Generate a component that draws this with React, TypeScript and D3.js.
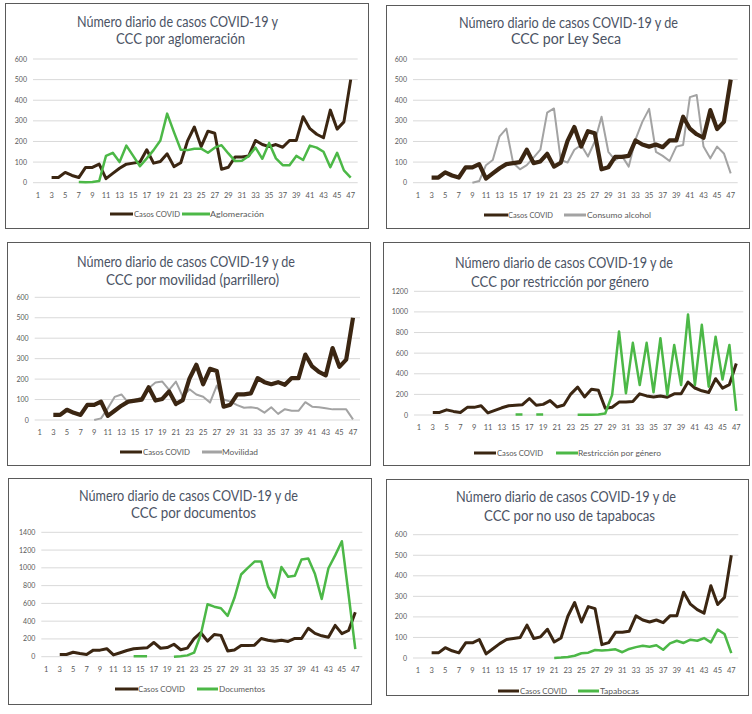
import React from "react";
import * as d3 from "d3";

const days: number[] = d3.range(1, 48);
const tickDays: number[] = days.filter((d) => d % 2 === 1);

const covid: (number | null)[] = [null, null, 25, 25, 50, 35, 25, 74, 74, 90, 20, 45, 70, 90, 95, 100, 160, 95, 103, 140, 78, 97, 203, 270, 175, 250, 240, 65, 75, 125, 125, 130, 205, 185, 175, 185, 172, 205, 205, 320, 262, 235, 218, 352, 260, 295, 500];

const aglomeracion: (number | null)[] = [null, null, null, null, null, null, 3, 2, 3, 8, 130, 145, 100, 180, 130, 80, 118, 158, 205, 335, 245, 160, 158, 165, 165, 145, 170, 182, 142, 105, 106, 130, 170, 116, 193, 118, 85, 85, 130, 110, 180, 170, 150, 75, 145, 60, 25];

const alcohol: (number | null)[] = [null, null, null, null, null, null, null, null, 0, 8, 85, 110, 225, 262, 95, 65, 85, 122, 160, 340, 360, 110, 98, 160, 183, 127, 200, 320, 150, 110, 130, 78, 210, 295, 358, 150, 130, 105, 175, 183, 415, 425, 175, 118, 175, 142, 45];

const movilidad: (number | null)[] = [null, null, null, null, null, null, null, null, 0, 8, 57, 113, 125, 85, 98, 110, 155, 183, 188, 147, 188, 115, 150, 125, 114, 85, 168, 100, 90, 73, 60, 62, 57, 36, 62, 30, 53, 45, 45, 87, 65, 62, 57, 52, 52, 52, 3];

const genero: (number | null)[] = [null, null, null, null, null, null, null, null, null, null, null, null, null, null, 5, 5, null, 5, 5, null, null, null, null, 2, 2, 3, 5, 15, 195, 810, 210, 700, 290, 700, 220, 745, 195, 680, 290, 975, 290, 875, 275, 760, 345, 680, 40];

const documentos: (number | null)[] = [null, null, null, null, null, null, null, null, null, null, null, null, null, 5, 5, 5, null, null, null, 0, 5, 15, 45, 250, 590, 563, 545, 460, 660, 925, 1000, 1070, 1070, 790, 665, 1010, 900, 910, 1095, 1105, 930, 650, 995, 1140, 1300, 700, 85];

const tapabocas: (number | null)[] = [null, null, null, null, null, null, null, null, null, null, null, null, null, null, null, null, null, null, null, null, 0, 2, 5, 11, 23, 26, 39, 37, 39, 42, 28, 44, 53, 60, 55, 62, 40, 71, 84, 73, 89, 84, 97, 76, 138, 117, 24];

const BROWN = "#3b2612";
const GREEN = "#4cb847";
const GRAY = "#a3a3a3";
const TITLE = "#4b5364";
const LABEL = "#595959";
const FONT = "Lato, 'Open Sans', sans-serif";

type Series = { name: string; values: (number | null)[]; color: string; width: number; lx1: number; lx2: number; tx: number; tw: number };
type PanelCfg = {
  box: [number, number, number, number];
  title: { text: string; cx: number; y: number; w: number }[];
  xFirst: number; xLast: number; y0: number; yTop: number; yMax: number; step: number;
  legendY: number;
  covidOnTop: boolean;
  series: Series[];
};

const panels: PanelCfg[] = [
  {
    box: [5, 3, 368, 228],
    title: [
      { text: "Número diario de casos COVID-19 y", cx: 177.5, y: 27, w: 201 },
      { text: "CCC por aglomeración", cx: 180.5, y: 43.5, w: 129 },
    ],
    xFirst: 38, xLast: 350.7, y0: 182.7, yTop: 59, yMax: 600, step: 100, legendY: 214, covidOnTop: false,
    series: [
      { name: "Casos COVID", values: covid, color: BROWN, width: 3, lx1: 110, lx2: 133, tx: 134, tw: 46 },
      { name: "Aglomeración", values: aglomeracion, color: GREEN, width: 2.5, lx1: 182, lx2: 210, tx: 210, tw: 54 },
    ],
  },
  {
    box: [386, 5, 749, 228],
    title: [
      { text: "Número diario de casos COVID-19 y de", cx: 568.5, y: 28, w: 219 },
      { text: "CCC por Ley Seca", cx: 566, y: 44, w: 110 },
    ],
    xFirst: 418, xLast: 730.7, y0: 182.7, yTop: 59, yMax: 600, step: 100, legendY: 215, covidOnTop: true,
    series: [
      { name: "Casos COVID", values: covid, color: BROWN, width: 4.2, lx1: 484, lx2: 508, tx: 508, tw: 45 },
      { name: "Consumo alcohol", values: alcohol, color: GRAY, width: 2, lx1: 564, lx2: 586, tx: 587, tw: 64 },
    ],
  },
  {
    box: [7, 242, 370, 465],
    title: [
      { text: "Número diario de casos COVID-19 y de", cx: 186, y: 267, w: 218 },
      { text: "CCC  por movilidad (parrillero)", cx: 192.5, y: 285, w: 173 },
    ],
    xFirst: 39.7, xLast: 353, y0: 420, yTop: 297.3, yMax: 600, step: 100, legendY: 452, covidOnTop: true,
    series: [
      { name: "Casos COVID", values: covid, color: BROWN, width: 4.2, lx1: 120, lx2: 142, tx: 143, tw: 47 },
      { name: "Movilidad", values: movilidad, color: GRAY, width: 2, lx1: 202, lx2: 222, tx: 222, tw: 36 },
    ],
  },
  {
    box: [383, 242, 749, 465],
    title: [
      { text: "Número diario de casos COVID-19 y de", cx: 564, y: 268, w: 218 },
      { text: "CCC por restricción por género", cx: 560, y: 287, w: 178 },
    ],
    xFirst: 419, xLast: 736.3, y0: 415, yTop: 291.3, yMax: 1200, step: 200, legendY: 453, covidOnTop: false,
    series: [
      { name: "Casos COVID", values: covid, color: BROWN, width: 3, lx1: 474, lx2: 496, tx: 497, tw: 46 },
      { name: "Restricción por género", values: genero, color: GREEN, width: 2.5, lx1: 556, lx2: 578, tx: 578, tw: 83 },
    ],
  },
  {
    box: [8, 478, 371, 704],
    title: [
      { text: "Número diario de casos COVID-19 y de", cx: 188.5, y: 501, w: 219 },
      { text: "CCC por documentos", cx: 193.5, y: 518, w: 125 },
    ],
    xFirst: 46.3, xLast: 355.3, y0: 656.7, yTop: 532.3, yMax: 1400, step: 200, legendY: 689, covidOnTop: false,
    series: [
      { name: "Casos COVID", values: covid, color: BROWN, width: 3, lx1: 115, lx2: 138, tx: 138, tw: 47 },
      { name: "Documentos", values: documentos, color: GREEN, width: 2.5, lx1: 197, lx2: 218, tx: 219, tw: 46 },
    ],
  },
  {
    box: [386, 479, 748, 695],
    title: [
      { text: "Número diario de casos COVID-19 y de", cx: 566, y: 502, w: 220 },
      { text: "CCC  por no uso de tapabocas", cx: 569.5, y: 521, w: 171 },
    ],
    xFirst: 418, xLast: 731.3, y0: 658, yTop: 534.7, yMax: 600, step: 100, legendY: 691, covidOnTop: false,
    series: [
      { name: "Casos COVID", values: covid, color: BROWN, width: 3, lx1: 498, lx2: 519, tx: 520, tw: 47 },
      { name: "Tapabocas", values: tapabocas, color: GREEN, width: 2.5, lx1: 578, lx2: 599, tx: 600, tw: 39 },
    ],
  },
];

function Panel({ cfg }: { cfg: PanelCfg }) {
  const x = d3.scalePoint<number>().domain(days).range([cfg.xFirst, cfg.xLast]);
  const y = d3.scaleLinear().domain([0, cfg.yMax]).range([cfg.y0, cfg.yTop]);
  const yTicks = d3.range(0, cfg.yMax + 1, cfg.step);
  const gx1 = cfg.xFirst - 5;
  const gx2 = cfg.xLast + 7;
  const [bx1, by1, bx2, by2] = cfg.box;
  const drawOrder = cfg.covidOnTop ? [...cfg.series].reverse() : cfg.series;
  const line = d3
    .line<number | null>()
    .defined((v) => v != null)
    .x((_, j) => x(days[j]) as number)
    .y((v) => y(v as number));
  return (
    <g>
      <rect x={bx1 + 0.5} y={by1 + 0.5} width={bx2 - bx1} height={by2 - by1} fill="#fff" stroke="#5a5a5a" strokeWidth={1} />
      {cfg.title.map((t, i) => (
        <text key={i} x={t.cx} y={t.y} textAnchor="middle" fontFamily={FONT} fontSize={14.5} fill={TITLE} textLength={t.w} lengthAdjust="spacingAndGlyphs">
          {t.text}
        </text>
      ))}
      {yTicks.map((v) => (
        <g key={v}>
          <line x1={gx1} x2={gx2} y1={y(v)} y2={y(v)} stroke="#d9d9d9" strokeWidth={1} />
          <text x={gx1 - 6} y={y(v) + 2.5} textAnchor="end" fontFamily={FONT} fontSize={7} fill={LABEL}>{v}</text>
        </g>
      ))}
      {tickDays.map((d) => (
        <text key={d} x={x(d)} y={cfg.y0 + 15} textAnchor="middle" fontFamily={FONT} fontSize={7.5} fill={LABEL}>{d}</text>
      ))}
      {drawOrder.map((s, i) => (
        <path key={i} d={line(s.values) || ""} fill="none" stroke={s.color} strokeWidth={s.width} strokeLinejoin="round" strokeLinecap="butt" />
      ))}
      {cfg.series.map((s, i) => (
        <g key={"l" + i}>
          <line x1={s.lx1} x2={s.lx2} y1={cfg.legendY} y2={cfg.legendY} stroke={s.color} strokeWidth={3} />
          <text x={s.tx} y={cfg.legendY + 2.8} fontFamily={FONT} fontSize={8} fill={LABEL} textLength={s.tw} lengthAdjust="spacingAndGlyphs">{s.name}</text>
        </g>
      ))}
    </g>
  );
}

export default function App() {
  return (
    <svg width={752} height={714} style={{ position: "absolute", left: 0, top: 0, background: "#fff" }}>
      <rect x={0} y={0} width={752} height={714} fill="#fff" />
      {panels.map((p, i) => (
        <Panel key={i} cfg={p} />
      ))}
    </svg>
  );
}
